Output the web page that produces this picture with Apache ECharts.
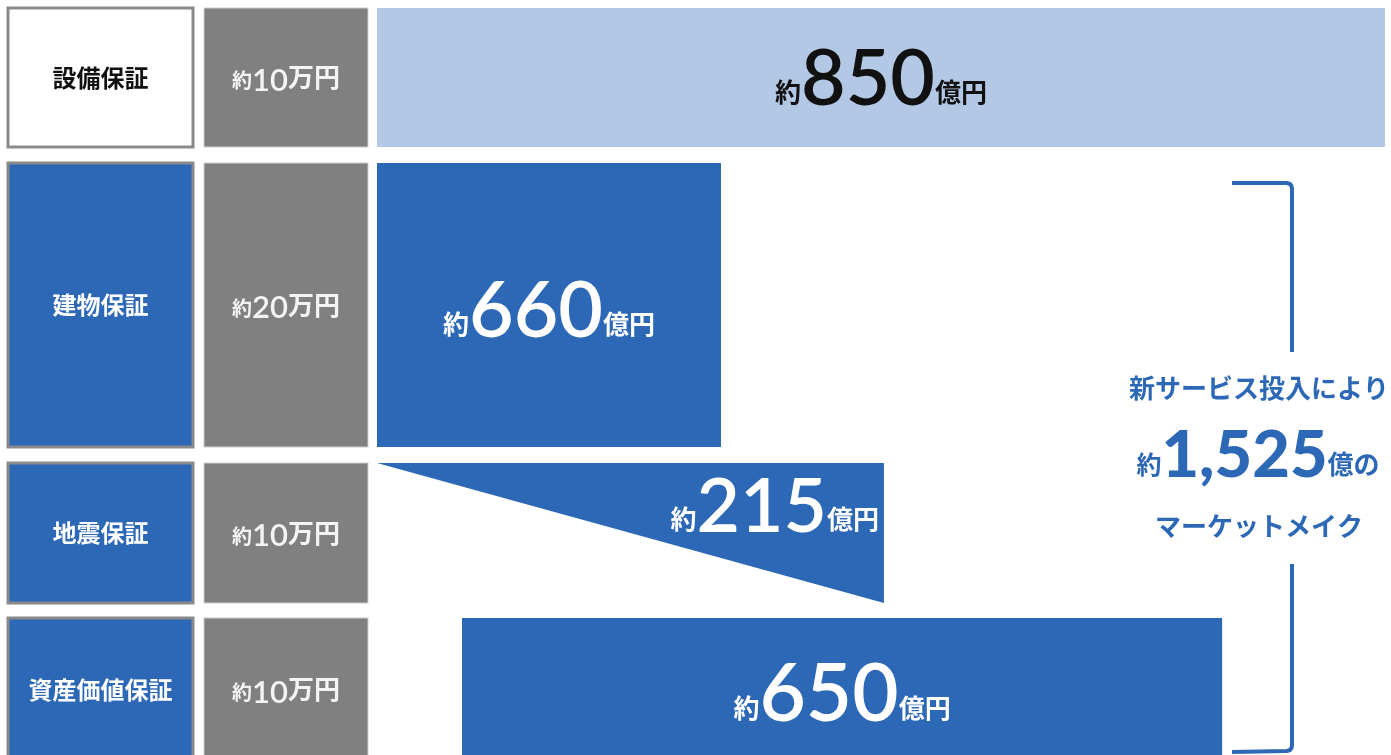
<!DOCTYPE html>
<html lang="ja">
<head>
<meta charset="utf-8">
<title>保証サービス別 市場規模</title>
<script src="https://cdn.jsdelivr.net/npm/echarts@6/dist/echarts.min.js"></script>
<style>
  html, body { margin: 0; padding: 0; background: #ffffff; }
  #chart { width: 1391px; height: 755px; }
</style>
</head>
<body>
<div id="chart"></div>
<script>
// 保証の種類
const categories = ['設備保証', '建物保証', '地震保証', '資産価値保証'];
// 1件あたりの保証料（万円）
const unitPrices = [10, 20, 10, 10];
// 市場規模（億円）
const marketSizes = [850, 660, 215, 650];
// 新サービスとして投入する保証
const isNewService = [false, true, true, true];

const newServiceTotal = marketSizes.reduce((sum, v, i) => sum + (isNewService[i] ? v : 0), 0);

const BLUE = '#2c68b6';
const LIGHT_BLUE = '#b3c8e5';
const GRAY = '#808080';
const BOX_BORDER = '#8a8a8a';
const JP = '"Noto Sans CJK JP", "Noto Sans", sans-serif';
const NUM = 'Lato, "Noto Sans", sans-serif';

// 行ごとの配置（グリッド位置・目盛りの最大値・文字サイズ・ラベルの上下補正）
const rowLayout = [
  { top: 8,   height: 139, left: 377, axisMax: 850,   numSize: 77, labelDy: 3, boxFill: '#ffffff', boxText: '#111111', barColor: LIGHT_BLUE, labelColor: '#111111' },
  { top: 163, height: 284, left: 377, axisMax: 1934,  numSize: 77, labelDy: 7, boxFill: BLUE,      boxText: '#ffffff', barColor: BLUE,       labelColor: '#ffffff' },
  { top: 463, height: 140, left: 377, axisMax: 427.5, numSize: 75, labelDy: 0, boxFill: BLUE,      boxText: '#ffffff', barColor: BLUE,       labelColor: '#ffffff' },
  { top: 618, height: 143, left: 462, axisMax: 862,   numSize: 80, labelDy: 6, boxFill: BLUE,      boxText: '#ffffff', barColor: BLUE,       labelColor: '#ffffff' }
];
const GRID_WIDTH = 1008;
const NAME_BOX_CX = 100.5;   // 保証名の箱の中心
const PRICE_BOX_CX = 286;    // 保証料の箱の中心

// 下揃えのとき、漢字の下端を数字のベースラインに合わせる高さ
function smallHeight(numSize, size) {
  return Math.round(2 * (0.516 * size + 0.17 * numSize));
}

// 「約○○億円」の書式
function amountRich(numSize, small, color, colorKey, numWeight) {
  const c = {};
  c[colorKey] = color;
  const h = smallHeight(numSize, small);
  return {
    a: Object.assign({ fontFamily: JP, fontWeight: 'bold', fontSize: small, height: h, lineHeight: h, verticalAlign: 'bottom' }, c),
    n: Object.assign({ fontFamily: NUM, fontWeight: numWeight || 600, fontSize: numSize, height: numSize, lineHeight: numSize, verticalAlign: 'bottom' }, c),
    u: Object.assign({ fontFamily: JP, fontWeight: 'bold', fontSize: small, height: h, lineHeight: h, verticalAlign: 'bottom' }, c)
  };
}
function amountText(v, unit) {
  return '{a|約}{n|' + v + '}{u|' + (unit || '億円') + '}';
}

const grids = [], xAxes = [], yAxes = [], series = [];

rowLayout.forEach((row, i) => {
  grids.push({
    left: row.left, top: row.top, width: GRID_WIDTH, height: row.height,
    containLabel: false, outerBoundsMode: 'none'
  });
  xAxes.push({ gridIndex: i, type: 'value', min: 0, max: row.axisMax, show: false });

  // 保証名の箱
  yAxes.push({
    gridIndex: i, type: 'category', position: 'left', data: [categories[i]],
    axisLine: { show: false }, axisTick: { show: false }, splitLine: { show: false },
    axisLabel: {
      margin: row.left - NAME_BOX_CX, align: 'center', verticalAlign: 'middle',
      width: 182, lineHeight: 30, padding: [(row.height - 3 - 30) / 2, 0],
      backgroundColor: row.boxFill, borderColor: BOX_BORDER, borderWidth: 3,
      color: row.boxText, fontFamily: JP, fontWeight: 'bold', fontSize: 24
    }
  });

  // 保証料の箱
  const priceRich = amountRich(31, 20, '#f4f4f4', 'color', 600);
  priceRich.u = Object.assign({}, priceRich.u, { fontSize: 26, height: smallHeight(31, 26), lineHeight: smallHeight(31, 26) });
  Object.keys(priceRich).forEach(k => { priceRich[k].align = 'center'; });
  const priceLine = smallHeight(31, 26);
  yAxes.push({
    gridIndex: i, type: 'category', position: 'left', data: [unitPrices[i]],
    axisLine: { show: false }, axisTick: { show: false }, splitLine: { show: false },
    axisLabel: {
      margin: row.left - PRICE_BOX_CX, align: 'center', verticalAlign: 'middle',
      width: 163, padding: [(row.height - 1 - priceLine) / 2, 0],
      backgroundColor: GRAY, borderColor: '#cfcfcf', borderWidth: 1,
      formatter: v => '{a|約}{n|' + v + '}{u|万円}',
      rich: priceRich
    }
  });

  if (i === 2) {
    // 地震保証は三角形で描く
    series.push({
      type: 'custom', xAxisIndex: i, yAxisIndex: i * 2,
      data: [[marketSizes[i], 0]],
      renderItem: (params, api) => {
        const start = api.coord([0, api.value(1)]);
        const end = api.coord([api.value(0), api.value(1)]);
        const band = api.size([0, 1])[1];
        const top = start[1] - band / 2;
        const bottom = start[1] + band / 2;
        return {
          type: 'group',
          children: [
            { type: 'polygon', shape: { points: [[start[0], top], [end[0], top], [end[0], bottom]] }, style: { fill: row.barColor } },
            {
              type: 'text',
              style: {
                text: amountText(api.value(0)),
                rich: amountRich(row.numSize, 26, row.labelColor, 'fill'),
                x: end[0] - 5, y: top + 7, align: 'right', verticalAlign: 'top',
                fill: row.labelColor
              }
            }
          ]
        };
      }
    });
  } else {
    series.push({
      type: 'bar', xAxisIndex: i, yAxisIndex: i * 2,
      data: [marketSizes[i]], barWidth: '100%',
      itemStyle: { color: row.barColor },
      label: {
        show: true, position: 'inside', offset: [0, row.labelDy],
        formatter: p => amountText(p.value),
        rich: amountRich(row.numSize, 26, row.labelColor, 'color')
      }
    });
  }
});

// 新サービス分の合計
const totalRich = amountRich(65, 25, BLUE, 'fill', 900);
totalRich.u = Object.assign({}, totalRich.u, { fontSize: 26, height: smallHeight(65, 26), lineHeight: smallHeight(65, 26) });

// 右側の括弧
const bracketStyle = { stroke: BLUE, lineWidth: 4, fill: null, lineJoin: 'round' };

const graphic = [
  { type: 'polyline', shape: { points: [[1232, 183], [1287, 183], [1290, 184], [1291.5, 186], [1292, 189], [1292, 352]] },
    style: bracketStyle },
  { type: 'polyline', shape: { points: [[1292, 564], [1292, 745], [1291.5, 748], [1290, 750], [1287, 751], [1232, 752]] },
    style: bracketStyle },
  { type: 'text', x: 1259, y: 388,
    style: { text: '新サービス投入により', fill: BLUE, fontFamily: JP, fontWeight: 'bold', fontSize: 26, align: 'center', verticalAlign: 'middle' } },
  { type: 'text', x: 1258, y: 456,
    style: { text: amountText(newServiceTotal.toLocaleString('en-US'), '億の'), rich: totalRich, fill: BLUE, align: 'center', verticalAlign: 'middle' } },
  { type: 'text', x: 1259, y: 526,
    style: { text: 'マーケットメイク', fill: BLUE, fontFamily: JP, fontWeight: 'bold', fontSize: 26, align: 'center', verticalAlign: 'middle' } }
];

const chart = echarts.init(document.getElementById('chart'), null, { renderer: 'canvas' });
chart.setOption({
  animation: false,
  backgroundColor: '#ffffff',
  grid: grids,
  xAxis: xAxes,
  yAxis: yAxes,
  series: series,
  graphic: graphic
});
</script>
</body>
</html>
